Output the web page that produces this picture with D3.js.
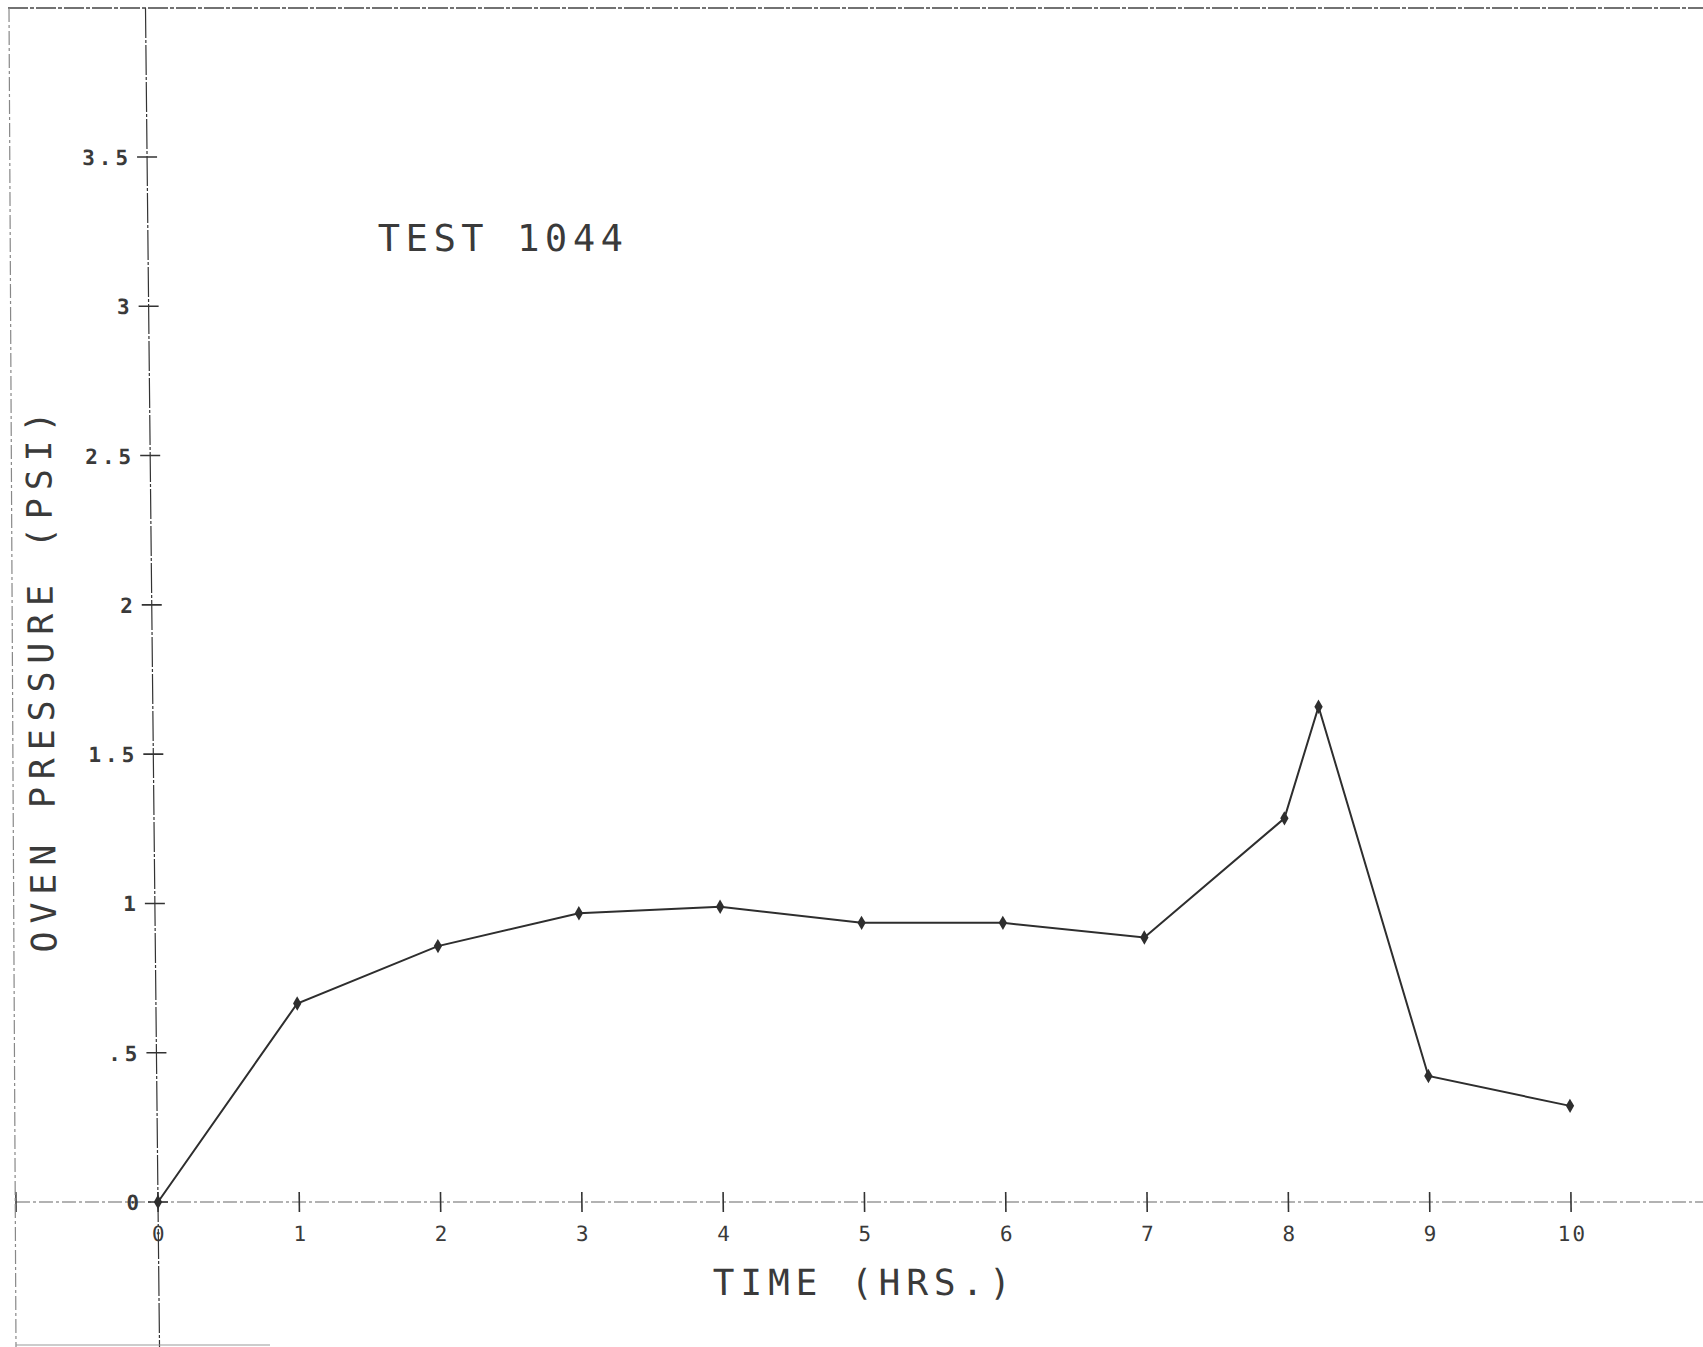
<!DOCTYPE html>
<html>
<head>
<meta charset="utf-8">
<script src="https://cdn.jsdelivr.net/npm/d3@7"></script>
<style>
body { margin: 0; background: #fff; }
text { font-family: "DejaVu Sans Mono", monospace; fill: #3a3a3a; }
</style>
</head>
<body>
<script>
var width = 1703;
var height = 1347;

// values
var hours = [0, 1, 2, 3, 4, 5, 6, 7, 8, 8.25, 9, 10];
var psi = [0, 0.665, 0.857, 0.967, 0.989, 0.935, 0.935, 0.886, 1.285, 1.659, 0.422, 0.322];

var xTicks = [0, 1, 2, 3, 4, 5, 6, 7, 8, 9, 10];
var xTickLabels = ["0", "1", "2", "3", "4", "5", "6", "7", "8", "9", "10"];
var yTicks = [0, 0.5, 1, 1.5, 2, 2.5, 3, 3.5];
var yTickLabels = ["0", ".5", "1", "1.5", "2", "2.5", "3", "3.5"];

var title = "TEST 1044";
var xTitle = "TIME (HRS.)";
var yTitle = "OVEN PRESSURE (PSI)";

var x = d3.scaleLinear().domain([0, 10]).range([158, 1571]);
var y = d3.scaleLinear().domain([0, 3.5]).range([1202, 157]);

var svg = d3.select("body").append("svg")
	.attr("width", width)
	.attr("height", height);

// the scanned sheet is slightly sheared, top leaning left
var g = svg.append("g")
	.attr("transform", "translate(0," + y(0) + ") skewX(0.6) translate(0," + (-y(0)) + ")");

var axisStyle = function(sel) {
	return sel.attr("stroke", "#666")
		.attr("stroke-width", 1.2)
		.attr("stroke-dasharray", "14,3,3,3")
		.attr("fill", "none");
};

// sheet frame, top and left edges
svg.append("line").attr("x1", 8).attr("x2", width).attr("y1", 8).attr("y2", 8)
	.attr("stroke", "#444").attr("stroke-width", 1.4).attr("stroke-dasharray", "20,2,4,2");
svg.append("line").attr("x1", 9).attr("x2", 16).attr("y1", 8).attr("y2", height)
	.call(axisStyle).attr("stroke", "#888");
svg.append("line").attr("x1", 16).attr("x2", 270).attr("y1", height - 2).attr("y2", height - 2)
	.attr("stroke", "#999").attr("stroke-width", 1);

// axis lines
g.append("line")
	.attr("x1", 16).attr("x2", width + 20)
	.attr("y1", y(0)).attr("y2", y(0))
	.call(axisStyle);
g.append("line")
	.attr("x1", x(0)).attr("x2", x(0))
	.attr("y1", 8).attr("y2", height + 20)
	.call(axisStyle).attr("stroke", "#333").attr("stroke-dasharray", "30,2,3,2");

// left end tick of the x axis
g.append("line")
	.attr("x1", 16).attr("x2", 16)
	.attr("y1", y(0) - 10).attr("y2", y(0) + 10)
	.attr("stroke", "#333").attr("stroke-width", 1.5);

// x ticks
var xt = g.append("g").selectAll("g")
	.data(xTicks)
	.enter().append("g")
	.attr("transform", function(d) { return "translate(" + x(d) + "," + y(0) + ")"; });
xt.append("line")
	.attr("y1", -10).attr("y2", 10)
	.attr("stroke", "#333").attr("stroke-width", 1.6);
xt.append("text")
	.attr("y", 39)
	.attr("x", 1)
	.attr("text-anchor", "middle")
	.attr("font-size", 21)
	.attr("letter-spacing", 2)
	.text(function(d, i) { return xTickLabels[i]; });

// y ticks
var yt = g.append("g").selectAll("g")
	.data(yTicks)
	.enter().append("g")
	.attr("transform", function(d) { return "translate(" + x(0) + "," + y(d) + ")"; });
yt.append("line")
	.attr("x1", -10).attr("x2", 10)
	.attr("stroke", "#333").attr("stroke-width", 1.6);
yt.append("text")
	.attr("x", -15)
	.attr("y", 8)
	.attr("text-anchor", "end")
	.attr("font-size", 21)
	.attr("font-weight", "bold")
	.attr("letter-spacing", 4)
	.text(function(d, i) { return yTickLabels[i]; });

// titles
g.append("text")
	.attr("x", 388).attr("y", 251)
	.attr("font-size", 37)
	.attr("textLength", 245)
	.attr("lengthAdjust", "spacing")
	.text(title);

g.append("text")
	.attr("x", 712).attr("y", 1295)
	.attr("font-size", 36)
	.attr("textLength", 298)
	.attr("lengthAdjust", "spacing")
	.text(xTitle);

g.append("text")
	.attr("transform", "translate(59,682) rotate(-90)")
	.attr("text-anchor", "middle")
	.attr("font-size", 35)
	.attr("textLength", 541)
	.attr("lengthAdjust", "spacing")
	.text(yTitle);

// data
var points = hours.map(function(h, i) { return {t: h, v: psi[i]}; });

var lineFunction = d3.line()
	.x(function(d) { return x(d.t); })
	.y(function(d) { return y(d.v); });

g.append("path")
	.attr("d", lineFunction(points))
	.attr("fill", "none")
	.attr("stroke", "#2e2e2e")
	.attr("stroke-width", 2);

g.append("g").selectAll("path")
	.data(points)
	.enter().append("path")
	.attr("d", d3.symbol(d3.symbolDiamond, 60))
	.attr("transform", function(d) { return "translate(" + x(d.t) + "," + y(d.v) + ")"; })
	.attr("fill", "#2e2e2e");
</script>
</body>
</html>
